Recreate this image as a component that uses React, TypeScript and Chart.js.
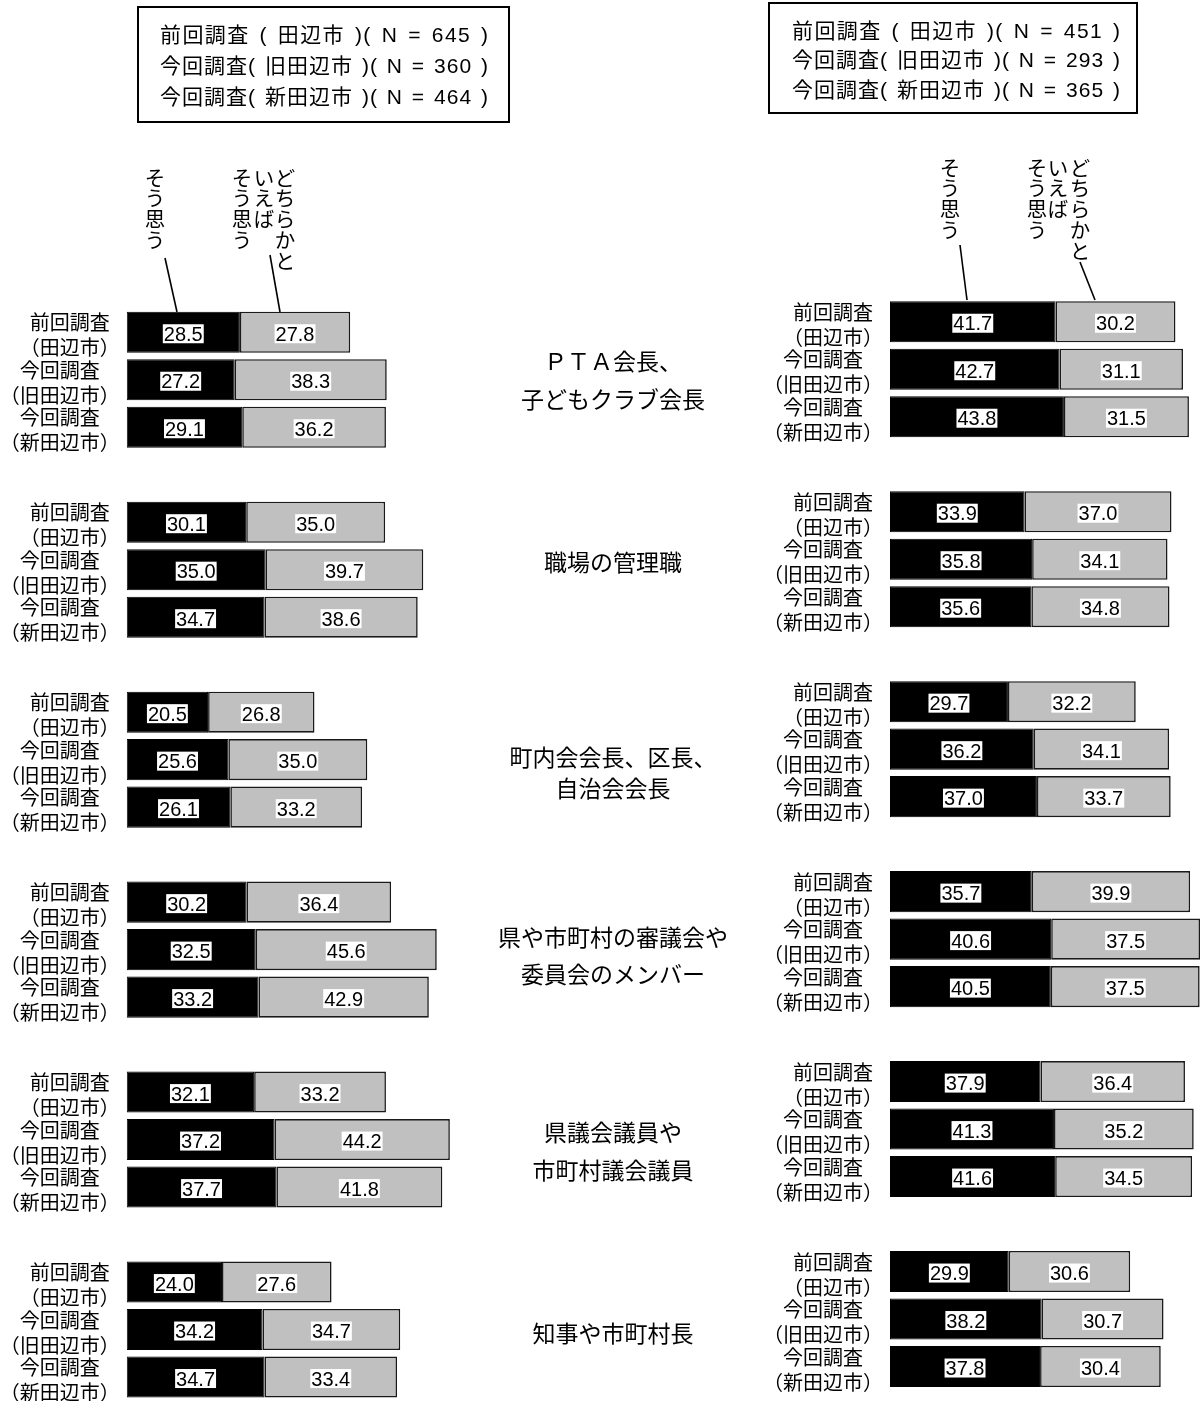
import React, { useEffect, useRef } from "react";
import { Chart, registerables } from "chart.js";

Chart.register(...registerables);

// ---------- data ----------
const SURVEY_LINES: string[][] = [
  ["前回調査", "（田辺市）"],
  ["今回調査", "（旧田辺市）"],
  ["今回調査", "（新田辺市）"],
];

const ITEMS: string[][] = [
  ["ＰＴＡ会長、", "子どもクラブ会長"],
  ["職場の管理職"],
  ["町内会会長、区長、", "自治会会長"],
  ["県や市町村の審議会や", "委員会のメンバー"],
  ["県議会議員や", "市町村議会議員"],
  ["知事や市町村長"],
];

const SERIES_NAMES = ["そう思う", "どちらかといえばそう思う"];
const SERIES_HEADER_COLUMNS = [["そう思う"], ["どちらかと", "いえば", "そう思う"]];

const LEFT_LEGEND = [
  "前回調査 ( 田辺市 )( N = 645 )",
  "今回調査( 旧田辺市 )( N = 360 )",
  "今回調査( 新田辺市 )( N = 464 )",
];
const RIGHT_LEGEND = [
  "前回調査 ( 田辺市 )( N = 451 )",
  "今回調査( 旧田辺市 )( N = 293 )",
  "今回調査( 新田辺市 )( N = 365 )",
];

const LEFT_AGREE = [
  [28.5, 27.2, 29.1],
  [30.1, 35.0, 34.7],
  [20.5, 25.6, 26.1],
  [30.2, 32.5, 33.2],
  [32.1, 37.2, 37.7],
  [24.0, 34.2, 34.7],
];
const LEFT_SOMEWHAT = [
  [27.8, 38.3, 36.2],
  [35.0, 39.7, 38.6],
  [26.8, 35.0, 33.2],
  [36.4, 45.6, 42.9],
  [33.2, 44.2, 41.8],
  [27.6, 34.7, 33.4],
];
const RIGHT_AGREE = [
  [41.7, 42.7, 43.8],
  [33.9, 35.8, 35.6],
  [29.7, 36.2, 37.0],
  [35.7, 40.6, 40.5],
  [37.9, 41.3, 41.6],
  [29.9, 38.2, 37.8],
];
const RIGHT_SOMEWHAT = [
  [30.2, 31.1, 31.5],
  [37.0, 34.1, 34.8],
  [32.2, 34.1, 33.7],
  [39.9, 37.5, 37.5],
  [36.4, 35.2, 34.5],
  [30.6, 30.7, 30.4],
];

// ---------- layout ----------
const W = 1202;
const H = 1401;
const PX_PER_UNIT = 3.97;
const SLOT = 47.49;
const CJK = "'Noto Sans CJK JP', 'Noto Sans', sans-serif";
const LATIN_CJK = "'Liberation Sans', Arial, 'Noto Sans CJK JP', sans-serif";
const ITEM_LABEL_Y = [[361, 399], [562], [757, 788], [937, 974], [1132, 1170], [1333]];
const ITEM_LABEL_X = 613;

type Panel = {
  key: string;
  agree: number[][];
  somewhat: number[][];
  left: number;
  top: number;
  xMax: number;
  legend: string[];
  legendBox: { x: number; y: number; w: number; h: number };
  legendLineY: number[];
  legendX: [number, number];
  headerTop: number;
  col1X: number;
  colsX: number[];
  leaders: number[][];
  showItems: boolean;
};

const LEFT_PANEL: Panel = {
  key: "L",
  agree: LEFT_AGREE,
  somewhat: LEFT_SOMEWHAT,
  left: 126.7,
  top: 308.5,
  xMax: 100,
  legend: LEFT_LEGEND,
  legendBox: { x: 138, y: 7, w: 371, h: 115 },
  legendLineY: [36, 67, 98],
  legendX: [160, 488],
  headerTop: 178,
  col1X: 155,
  colsX: [285, 264, 242],
  leaders: [
    [165, 258, 177, 312],
    [270, 255, 280, 312],
  ],
  showItems: true,
};

const RIGHT_PANEL: Panel = {
  key: "R",
  agree: RIGHT_AGREE,
  somewhat: RIGHT_SOMEWHAT,
  left: 890,
  top: 298,
  xMax: 78.5,
  legend: RIGHT_LEGEND,
  legendBox: { x: 769, y: 3, w: 368, h: 110 },
  legendLineY: [32, 61, 91],
  legendX: [792, 1120],
  headerTop: 168,
  col1X: 950,
  colsX: [1080, 1058, 1037],
  leaders: [
    [960, 245, 967, 300],
    [1080, 262, 1095, 300],
  ],
  showItems: false,
};

function buildRows(panel: Panel) {
  const labels: string[] = [];
  const agree: (number | null)[] = [];
  const somewhat: (number | null)[] = [];
  const survey: number[] = [];
  ITEMS.forEach((_, g) => {
    for (let s = 0; s < 3; s++) {
      labels.push(`${g}-${s}`);
      agree.push(panel.agree[g][s]);
      somewhat.push(panel.somewhat[g][s]);
      survey.push(s);
    }
    if (g < ITEMS.length - 1) {
      labels.push(`gap-${g}`);
      agree.push(null);
      somewhat.push(null);
      survey.push(-1);
    }
  });
  return { labels, agree, somewhat, survey };
}

// draws text from x0 so that it ends at x1; spaces widen more than other gaps
function drawFitted(ctx: CanvasRenderingContext2D, text: string, x0: number, x1: number, y: number) {
  const chars = Array.from(text);
  const widths = chars.map((c) => ctx.measureText(c).width);
  const total = widths.reduce((a, b) => a + b, 0);
  const weights = chars.map((c, i) => (i === chars.length - 1 ? 0 : c === " " ? 3 : 1));
  const wsum = weights.reduce((a, b) => a + b, 0);
  const unit = wsum > 0 ? (x1 - x0 - total) / wsum : 0;
  let x = x0;
  ctx.textAlign = "left";
  chars.forEach((c, i) => {
    if (c !== " ") ctx.fillText(c, x, y);
    x += widths[i] + unit * weights[i];
  });
}

function drawVertical(ctx: CanvasRenderingContext2D, text: string, x: number, y0: number, step: number) {
  Array.from(text).forEach((c, i) => {
    ctx.fillText(c, x, y0 + i * step);
  });
}

function makeDecoPlugin(panel: Panel, survey: number[]) {
  return {
    id: "deco" + panel.key,
    afterDatasetsDraw(chart: any) {
      const ctx: CanvasRenderingContext2D = chart.ctx;
      const area = chart.chartArea;
      ctx.save();

      // value labels
      chart.data.datasets.forEach((ds: any, di: number) => {
        const meta = chart.getDatasetMeta(di);
        meta.data.forEach((el: any, i: number) => {
          const v = ds.data[i];
          if (v == null) return;
          const p = el.getProps(["x", "y", "base"], true);
          const cx = (p.x + p.base) / 2;
          const cy = p.y + 1.5;
          const txt = v.toFixed(1);
          ctx.font = "20px 'Liberation Sans', Arial, sans-serif";
          const w = ctx.measureText(txt).width;
          ctx.fillStyle = "#ffffff";
          ctx.fillRect(cx - w / 2 - 1, cy - 9.5, w + 2, 19);
          ctx.fillStyle = "#000000";
          ctx.textAlign = "center";
          ctx.textBaseline = "alphabetic";
          ctx.fillText(txt, cx, cy + 7.2);
        });
      });

      // survey labels (left of bars)
      const yScale = chart.scales.y;
      ctx.font = `20px ${CJK}`;
      ctx.fillStyle = "#000";
      ctx.textBaseline = "middle";
      ctx.textAlign = "center";
      const R = area.left - 7;
      survey.forEach((s, i) => {
        if (s < 0) return;
        const yc = yScale.getPixelForValue(i);
        const lines = SURVEY_LINES[s];
        const bw = Math.max(...lines.map((l) => ctx.measureText(l).width));
        const cx = R - bw / 2;
        ctx.fillText(lines[0], cx, yc - 9.5);
        ctx.fillText(lines[1], cx, yc + 15.5);
      });

      // item labels in the middle
      if (panel.showItems) {
        ctx.font = `23px ${CJK}`;
        ITEMS.forEach((lines, g) => {
          lines.forEach((l, k) => ctx.fillText(l, ITEM_LABEL_X, ITEM_LABEL_Y[g][k]));
        });
      }

      // legend box
      const b = panel.legendBox;
      ctx.lineWidth = 2;
      ctx.strokeStyle = "#000";
      ctx.strokeRect(b.x, b.y, b.w, b.h);
      ctx.font = `21px ${LATIN_CJK}`;
      ctx.textBaseline = "middle";
      panel.legend.forEach((t, i) => drawFitted(ctx, t, panel.legendX[0], panel.legendX[1], panel.legendLineY[i]));

      // vertical series headers
      ctx.font = `20.5px ${CJK}`;
      ctx.textAlign = "center";
      ctx.textBaseline = "middle";
      drawVertical(ctx, SERIES_HEADER_COLUMNS[0][0], panel.col1X, panel.headerTop, 20.7);
      SERIES_HEADER_COLUMNS[1].forEach((col, k) => drawVertical(ctx, col, panel.colsX[k], panel.headerTop, 20.7));

      // leader lines
      ctx.lineWidth = 1.6;
      panel.leaders.forEach(([x0, y0, x1, y1]) => {
        ctx.beginPath();
        ctx.moveTo(x0, y0);
        ctx.lineTo(x1, y1);
        ctx.stroke();
      });

      ctx.restore();
    },
  };
}

function makeChart(canvas: HTMLCanvasElement, panel: Panel) {
  const rows = buildRows(panel);
  const n = rows.labels.length;
  const right = W - (panel.left + panel.xMax * PX_PER_UNIT);
  const bottom = H - (panel.top + n * SLOT);
  return new Chart(canvas, {
    type: "bar",
    data: {
      labels: rows.labels,
      datasets: [
        {
          label: SERIES_NAMES[0],
          data: rows.agree,
          backgroundColor: "#000000",
          borderColor: "#000000",
          borderWidth: 1,
          borderSkipped: false,
          barPercentage: 0.865,
          categoryPercentage: 1,
        },
        {
          label: SERIES_NAMES[1],
          data: rows.somewhat,
          backgroundColor: "#c0c0c0",
          borderColor: "#1a1a1a",
          borderWidth: 1.6,
          borderSkipped: false,
          barPercentage: 0.865,
          categoryPercentage: 1,
        },
      ],
    } as any,
    options: {
      indexAxis: "y",
      responsive: false,
      animation: false,
      devicePixelRatio: 1,
      events: [],
      layout: { padding: { left: panel.left, top: panel.top, right: Math.max(0, right), bottom: Math.max(0, bottom) } },
      plugins: { legend: { display: false }, tooltip: { enabled: false } },
      scales: {
        x: { stacked: true, min: 0, max: panel.xMax, display: false },
        y: { stacked: true, display: false, offset: true },
      },
    } as any,
    plugins: [makeDecoPlugin(panel, rows.survey)],
  });
}

export default function App() {
  const leftRef = useRef<HTMLCanvasElement>(null);
  const rightRef = useRef<HTMLCanvasElement>(null);

  useEffect(() => {
    document.body.style.margin = "0";
    const c1 = makeChart(leftRef.current as HTMLCanvasElement, LEFT_PANEL);
    const c2 = makeChart(rightRef.current as HTMLCanvasElement, RIGHT_PANEL);
    return () => {
      c1.destroy();
      c2.destroy();
    };
  }, []);

  return (
    <div
      style={{
        position: "absolute",
        left: 0,
        top: 0,
        width: W,
        height: H,
        background: "#ffffff",
        overflow: "hidden",
      }}
    >
      <canvas ref={leftRef} width={W} height={H} style={{ position: "absolute", left: 0, top: 0 }} />
      <canvas ref={rightRef} width={W} height={H} style={{ position: "absolute", left: 0, top: 0 }} />
    </div>
  );
}
